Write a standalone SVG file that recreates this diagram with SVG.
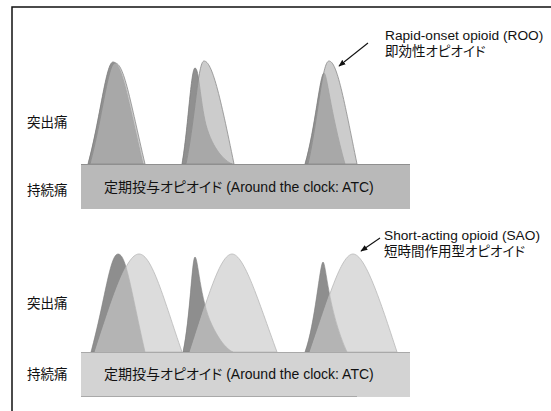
<svg xmlns="http://www.w3.org/2000/svg" width="551" height="411" viewBox="0 0 551 411">
<defs>
<style>
.t{font-family:"Liberation Sans","Noto Sans CJK JP",sans-serif;font-size:13.5px;fill:#111;font-feature-settings:"palt"}
.bx{font-family:"Liberation Sans","Noto Sans CJK JP",sans-serif;font-size:14px;fill:#111;font-feature-settings:"palt"}
.lbl{font-family:"Liberation Sans","Noto Sans CJK JP",sans-serif;font-size:13.7px;fill:#111}
.dk1{fill:#909090;stroke:#7d7d7d;stroke-width:0.8}
.lt1{fill:#b4b4b4;fill-opacity:0.68;stroke:#8a8a8a;stroke-width:0.8}
.dk2{fill:#8e8e8e;stroke:#808080;stroke-width:0.6}
.lt2{fill:#c9c9c9;fill-opacity:0.65;stroke:#b8b8b8;stroke-width:0.8}
.arr{stroke:#111;stroke-width:1.1;fill:none}
</style>
<marker id="ah" viewBox="0 0 10 10" refX="9" refY="5" markerWidth="7" markerHeight="7" orient="auto" markerUnits="userSpaceOnUse">
<path d="M0,1 L10,5 L0,9 Z" fill="#111"/>
</marker>
</defs>
<rect width="551" height="411" fill="#fff"/>
<polyline points="12,411 12,7 551,7" fill="none" stroke="#111" stroke-width="1.5"/>

<g id="top-peaks">
<path class="dk1" d="M88,164 C100,120 106,62 113,62 C122,62 128,100 143,164 Z"/>
<path class="lt1" d="M90,164 C102,120 108,63 115,63 C124,63 130,100 145,164 Z"/>
<path class="dk1" d="M182,164 C188,130 191,68 195,68 C199,68 200,100 206,125 C213,150 225,161 232,164 Z"/>
<path class="lt1" d="M186,164 C195,120 198,61 204,61 C212,61 220,95 234,164 Z"/>
<path class="dk1" d="M305,164 C315,130 320,73 324,73 C327,73 330,110 345,164 Z"/>
<path class="lt1" d="M308,164 C318,120 322,61 329,61 C337,61 344,100 357,164 Z"/>
</g>

<g id="top-atc">
<rect x="81" y="164" width="329" height="45" fill="#b9b9b9"/>
<line x1="81" y1="164.5" x2="410" y2="164.5" stroke="#8f8f8f" stroke-width="1"/>
<text class="bx" x="104" y="192">定期投与オピオイド (Around the clock: ATC)</text>
</g>

<g id="bottom-peaks">
<path class="dk2" d="M91,352 C105,300 110,254 118,254 C126,254 130,285 145,352 Z"/>
<path class="lt2" d="M95,352 C112,300 126,254 139,254 C152,254 164,300 182,352 Z"/>
<path class="dk2" d="M183,352 C190,320 192,257 195,257 C198,257 200,300 212,325 C220,342 228,350 233,352 Z"/>
<path class="lt2" d="M190,352 C207,300 220,254 232,254 C244,254 258,300 277,352 Z"/>
<path class="dk2" d="M305,352 C315,325 320,262 323,262 C326,262 328,310 347,352 Z"/>
<path class="lt2" d="M310,352 C328,300 341,254 353,254 C365,254 380,300 397,352 Z"/>
</g>

<g id="bottom-atc">
<rect x="81" y="352" width="329" height="45" fill="#d3d3d3"/>
<line x1="81" y1="352.5" x2="410" y2="352.5" stroke="#a9a9a9" stroke-width="1"/>
<line x1="81" y1="396.5" x2="357" y2="396.5" stroke="#a9a9a9" stroke-width="1"/>
<text class="bx" x="104" y="379">定期投与オピオイド (Around the clock: ATC)</text>
</g>

<g id="row-labels">
<text class="t" x="27" y="127">突出痛</text>
<text class="t" x="27" y="195">持続痛</text>
<text class="t" x="27" y="308">突出痛</text>
<text class="t" x="27" y="379">持続痛</text>
</g>

<g id="roo-label">
<text class="lbl" x="385" y="40">Rapid-onset opioid (ROO)</text>
<text class="t" x="385" y="56">即効性オピオイド</text>
</g>

<g id="sao-label">
<text class="lbl" x="384" y="240">Short-acting opioid (SAO)</text>
<text class="t" x="384" y="256">短時間作用型オピオイド</text>
</g>

<g id="connectors">
<line class="arr" x1="368" y1="43" x2="339" y2="66" marker-end="url(#ah)"/>
<line class="arr" x1="380" y1="238" x2="361" y2="251" marker-end="url(#ah)"/>
</g>
</svg>
